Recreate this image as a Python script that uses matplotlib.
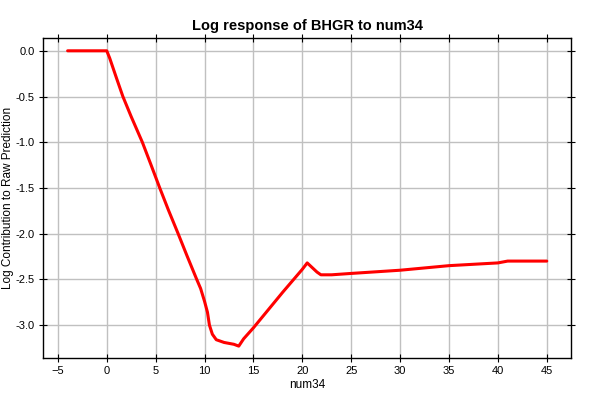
import numpy as np
import matplotlib
matplotlib.use("Agg")
import matplotlib.pyplot as plt

# Response curve
num34 = [-4, -3, -2, -1, 0, 0.3, 1, 1.65, 2.5, 3.64, 4.5, 5.42, 6.3, 7.3,
         8.2, 9.2, 9.6, 10.0, 10.3, 10.5, 10.8, 11.2, 12, 13, 13.5, 14, 15,
         16, 18, 20, 20.5, 21, 21.5, 21.9, 23, 25, 30, 35, 40, 41, 45]
log_contrib = [0.0, 0.0, 0.0, 0.0, 0.0, -0.08, -0.3, -0.5, -0.72, -1.0,
               -1.24, -1.5, -1.74, -2.0, -2.24, -2.5, -2.6, -2.74, -2.86,
               -3.0, -3.1, -3.16, -3.19, -3.21, -3.23, -3.15, -3.03, -2.9,
               -2.64, -2.39, -2.32, -2.37, -2.42, -2.45, -2.45, -2.435,
               -2.40, -2.35, -2.32, -2.30, -2.30]

plt.rcParams["font.family"] = ["Liberation Sans", "DejaVu Sans"]

fig = plt.figure(figsize=(6, 4), dpi=100)
ax = fig.add_axes([0.072, 0.105, 0.88, 0.8])

ax.plot(num34, log_contrib, color="red", linewidth=2.2,
        solid_joinstyle="round", solid_capstyle="round")

ax.set_xlim(-6.5, 47.5)
ax.set_ylim(-3.36, 0.14)
ax.set_xticks(np.arange(-5, 46, 5))
ax.set_yticks(np.arange(-3.0, 0.01, 0.5))
ax.set_yticklabels([f"{v:.1f}" for v in np.arange(-3.0, 0.01, 0.5)])
ax.grid(True, color="#c0c0c0", linewidth=1)
ax.set_axisbelow(True)
ax.tick_params(direction="inout", length=6, top=True, right=True,
               labelsize=8, pad=3)
for s in ax.spines.values():
    s.set_linewidth(1)

ax.set_title("Log response of BHGR to num34", fontsize=10.5,
             fontweight="bold", pad=6)
ax.set_xlabel("num34", fontsize=8.5, labelpad=2)
ax.set_ylabel("Log Contribution to Raw Prediction", fontsize=8.5, labelpad=1)

fig.savefig("out.png", dpi=100)
